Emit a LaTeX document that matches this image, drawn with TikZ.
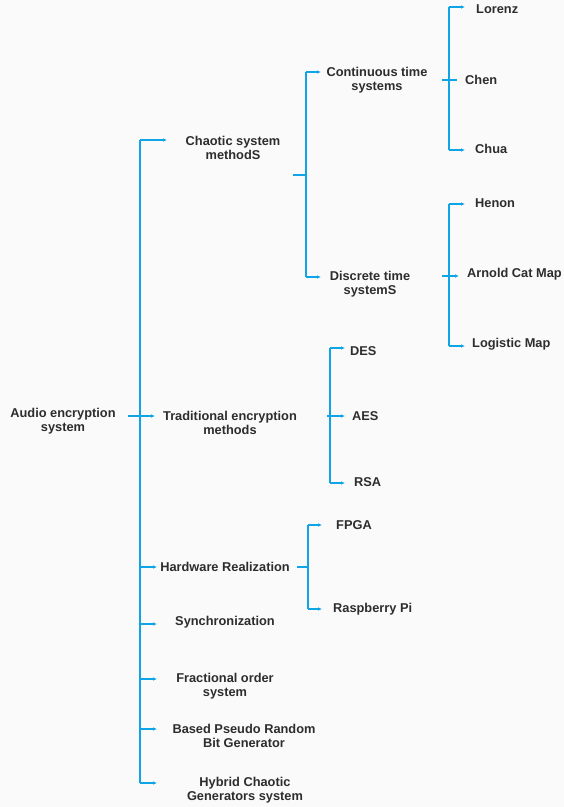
\documentclass[tikz,border=0pt]{standalone}
\usepackage{fontspec}
\setmainfont{Liberation Sans}
\usetikzlibrary{arrows.meta}
\definecolor{lnk}{RGB}{14,164,230}
\definecolor{txt}{RGB}{45,45,45}

\begin{document}
\begin{tikzpicture}[x=1pt,y=-1pt,
  every node/.style={font=\fontsize{12.8}{14.5}\selectfont\bfseries,text=txt,align=center,inner sep=0pt},
  link/.style={draw=lnk,line width=1.7pt},
  arr/.style={link,-{Latex[length=4pt,width=3.6pt]}}]
\fill[white!98!black] (0,0) rectangle (564,807);
\useasboundingbox (0,0) rectangle (564,807);
% level 0 and 1
\node (root) at (63,421) {Audio encryption\\system};
\node (chaos) at (233,148) {Chaotic system\\methodS};
\node (trad) at (230,423) {Traditional encryption\\methods};
\node (hw) at (225,567) {Hardware Realization};
\node (sync) at (225,622) {Synchronization};
\node (frac) at (225,686) {Fractional order\\system};
\node (prbg) at (244,736) {Based Pseudo Random\\Bit Generator};
\node (hyb) at (245,790) {Hybrid Chaotic\\Generators system};
% level 2
\node (cont) at (377,80) {Continuous time\\systems};
\node (disc) at (370,284) {Discrete time\\systemS};
\node[anchor=west] (des) at (350,351) {DES};
\node[anchor=west] (aes) at (352,416) {AES};
\node[anchor=west] (rsa) at (354,482) {RSA};
\node[anchor=west] (fpga) at (336,525) {FPGA};
\node[anchor=west] (rpi) at (333,609) {Raspberry Pi};
% level 3
\node[anchor=west] (lorenz) at (476,9) {Lorenz};
\node[anchor=west] (chen) at (465,80) {Chen};
\node[anchor=west] (chua) at (475,149) {Chua};
\node[anchor=west] (henon) at (475,203) {Henon};
\node[anchor=west] (arnold) at (467,274) {Arnold Cat Map};
\node[anchor=west] (logistic) at (472,344) {Logistic Map};

% main bus
\coordinate (rootout) at (128,416);
\draw[link] (140,140) -- (140,783);
\draw[arr] (rootout) -- (155,416);
\draw[arr] (140,140) -- (167,140);
\foreach \y in {567,624,679,729,783}
  \draw[arr] (140,\y) -- (157,\y);
% chaotic branch
\draw[link] (293,175) -- (306,175);
\draw[link] (306,72) -- (306,277);
\draw[arr] (306,72) -- (321,72);
\draw[arr] (306,277) -- (321,277);
% continuous and discrete
\draw[link] (449,7) -- (449,150);
\draw[link] (442,80) -- (457,80);
\draw[arr] (449,7) -- (465,7);
\draw[arr] (449,150) -- (465,150);
\draw[link] (449,204) -- (449,346);
\draw[arr] (442,276) -- (459,276);
\draw[arr] (449,204) -- (465,204);
\draw[arr] (449,346) -- (465,346);
% traditional
\draw[link] (330,348) -- (330,483);
\draw[arr] (327,416) -- (345,416);
\draw[arr] (330,348) -- (345,348);
\draw[arr] (330,483) -- (345,483);
% hardware
\draw[link] (297,567) -- (308,567);
\draw[link] (308,525) -- (308,609);
\draw[arr] (308,525) -- (322,525);
\draw[arr] (308,609) -- (322,609);
\end{tikzpicture}
\end{document}
